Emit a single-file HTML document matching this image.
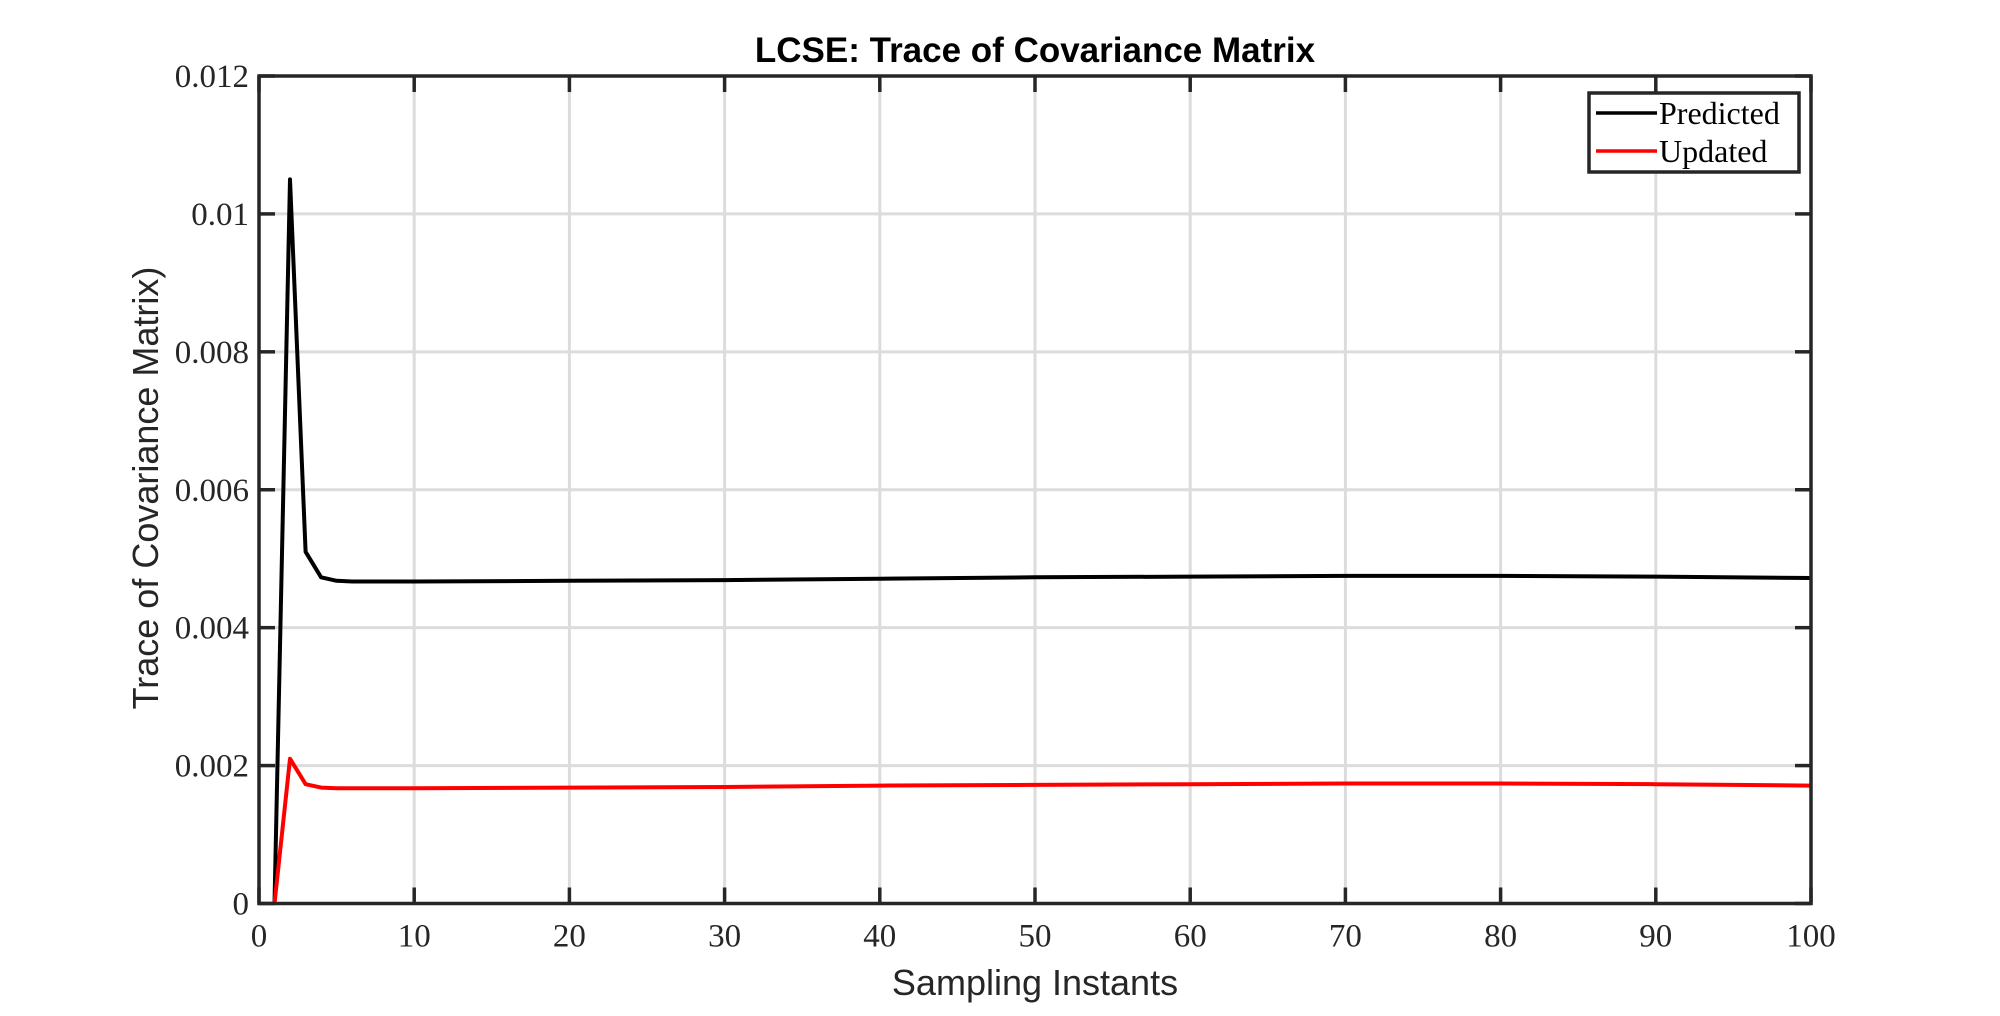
<!DOCTYPE html>
<html><head><meta charset="utf-8"><style>
html,body{margin:0;padding:0;background:#fff;}
svg{display:block;}
</style></head><body>
<svg id="chart" width="2000" height="1016" xmlns="http://www.w3.org/2000/svg">
<g id="grid"></g>
<g id="series"></g>
<g id="axes"></g>
<text x="1035" y="62" text-anchor="middle" font-family="Liberation Sans, sans-serif" font-weight="bold" font-size="35" fill="#000">LCSE: Trace of Covariance Matrix</text>
<text x="1035" y="995" text-anchor="middle" font-family="Liberation Sans, sans-serif" font-size="36" fill="#262626">Sampling Instants</text>
<text transform="translate(158,488) rotate(-90)" text-anchor="middle" font-family="Liberation Sans, sans-serif" font-size="36" fill="#262626">Trace of Covariance Matrix)</text>
<g>
<rect x="1589" y="93" width="210" height="79" fill="#fff" stroke="#262626" stroke-width="3.5"/>
<line x1="1596" y1="113" x2="1657" y2="113" stroke="#000" stroke-width="3.5"/>
<text x="1659" y="124" font-family="Liberation Serif, serif" font-size="32" fill="#000">Predicted</text>
<line x1="1596" y1="151" x2="1657" y2="151" stroke="#f00" stroke-width="3.5"/>
<text x="1659" y="162" font-family="Liberation Serif, serif" font-size="32" fill="#000">Updated</text>
</g>
</svg>
<script>
const xVals = [1,2,3,4,5,6,10,20,30,40,50,60,70,80,90,100];
const predicted = [0,0.0105,0.0051,0.00473,0.00468,0.00467,0.00467,0.00468,0.00469,0.00471,0.00473,0.00474,0.00475,0.00475,0.00474,0.00472];
const updated = [0,0.0021,0.00173,0.00168,0.00167,0.00167,0.00167,0.00168,0.00169,0.00171,0.00172,0.00173,0.00174,0.00174,0.00173,0.00171];
const xTicks = [0,10,20,30,40,50,60,70,80,90,100];
const yTicks = [0,0.002,0.004,0.006,0.008,0.01,0.012];
const yTickLabels = ["0","0.002","0.004","0.006","0.008","0.01","0.012"];

const L=259,R=1811,T=76,B=903.5;
const NS="http://www.w3.org/2000/svg";
function sx(v){return L+(v-0)/(100-0)*(R-L);}
function sy(v){return B-(v-0)/(0.012-0)*(B-T);}
function mk(tag,attrs,parent){const e=document.createElementNS(NS,tag);for(const k in attrs)e.setAttribute(k,attrs[k]);parent.appendChild(e);return e;}
const grid=document.getElementById('grid'),axes=document.getElementById('axes'),series=document.getElementById('series');
xTicks.forEach(t=>{
  if(t>0&&t<100){const g=mk('line',{x1:sx(t),x2:sx(t),y1:T,y2:B,stroke:'#dcdcdc','stroke-width':3},grid);
  
  }
  const a=mk('line',{x1:sx(t),x2:sx(t),y1:B,y2:B-16,stroke:'#262626','stroke-width':3.5},axes);
  
  
  const b=mk('line',{x1:sx(t),x2:sx(t),y1:T,y2:T+16,stroke:'#262626','stroke-width':3.5},axes);
  
  
  const tx=mk('text',{x:sx(t),y:B+43,'text-anchor':'middle','font-family':'Liberation Serif, serif','font-size':33,fill:'#262626'},axes);
  tx.textContent=String(t);
  
  
});
yTicks.forEach((t,i)=>{
  if(t>0&&t<0.012){const g=mk('line',{x1:L,x2:R,y1:sy(t),y2:sy(t),stroke:'#dcdcdc','stroke-width':3},grid);
  
  }
  const a=mk('line',{x1:L,x2:L+16,y1:sy(t),y2:sy(t),stroke:'#262626','stroke-width':3.5},axes);
  
  
  const b=mk('line',{x1:R,x2:R-16,y1:sy(t),y2:sy(t),stroke:'#262626','stroke-width':3.5},axes);
  
  
  const tx=mk('text',{x:L-10,y:sy(t)+11,'text-anchor':'end','font-family':'Liberation Serif, serif','font-size':33,fill:'#262626'},axes);
  tx.textContent=yTickLabels[i];
  
  
});
const frame=mk('rect',{x:L,y:T,width:R-L,height:B-T,fill:'none',stroke:'#262626','stroke-width':3.5},axes);


function line(vals,color,name){
  const d=vals.map((v,i)=>(i?'L':'M')+sx(xVals[i]).toFixed(1)+','+sy(v).toFixed(1)).join(' ');
  const p=mk('path',{d:d,fill:'none',stroke:color,'stroke-width':4,'stroke-linejoin':'round'},series);
  
  
}
line(predicted,'#000','predicted-line');
line(updated,'#f00','updated-line');
</script>
</body></html>
